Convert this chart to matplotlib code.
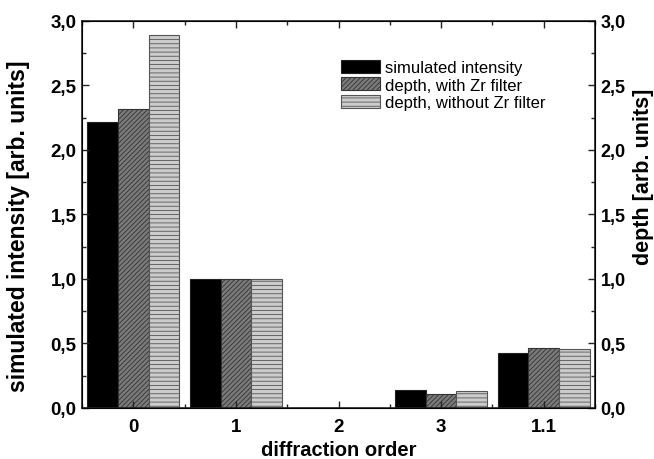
import matplotlib
matplotlib.use("Agg")
import matplotlib.pyplot as plt
from matplotlib.ticker import MultipleLocator, FuncFormatter
import numpy as np

orders = ["0", "1", "2", "3", "1.1"]
simulated = [2.22, 1.00, 0.0, 0.14, 0.43]
depth_zr = [2.32, 1.00, 0.0, 0.105, 0.465]
depth_no_zr = [2.89, 1.00, 0.0, 0.13, 0.455]

plt.rcParams["font.family"] = ["Liberation Sans", "DejaVu Sans"]
plt.rcParams["hatch.linewidth"] = 0.6

fig = plt.figure(figsize=(6.54, 4.6), dpi=100)
ax = fig.add_axes([0.1254, 0.1109, 0.7844, 0.8413])

x = np.arange(len(orders))
w = 0.3
ax.bar(x - w, simulated, w, color="black", edgecolor="#222222", lw=0.8,
       label="simulated intensity")
ax.bar(x, depth_zr, w, color="#7a7a7a", edgecolor="#333333", lw=0.8,
       hatch="///////", label="depth, with Zr filter")
ax.bar(x + w, depth_no_zr, w, color="#cccccc", edgecolor="#555555", lw=0.8,
       hatch="----", label="depth, without Zr filter")

ax.set_xlim(-0.5, 4.5)
ax.set_ylim(0, 3.0)
ax.set_xticks(x)
ax.set_xticklabels(orders)
ax.xaxis.set_minor_locator(MultipleLocator(0.5))
ax.yaxis.set_major_locator(MultipleLocator(0.5))
ax.yaxis.set_minor_locator(MultipleLocator(0.25))
comma = FuncFormatter(lambda v, p: f"{v:.1f}".replace(".", ","))
ax.yaxis.set_major_formatter(comma)

for s in ax.spines.values():
    s.set_linewidth(1.2)
    s.set_color("#222222")

ax.tick_params(axis="both", which="both", direction="out", width=1.0,
               labelsize=13.5, color="#222222")
ax.tick_params(which="major", length=5)
ax.tick_params(which="minor", length=3)
ax.tick_params(axis="x", pad=7)
ax.tick_params(axis="y", pad=4)
ax.tick_params(top=True, which="both", direction="in")
for lab in ax.get_xticklabels() + ax.get_yticklabels():
    lab.set_fontweight("bold")

ax2 = ax.twinx()
ax2.set_ylim(0, 3.0)
ax2.yaxis.set_major_locator(MultipleLocator(0.5))
ax2.yaxis.set_minor_locator(MultipleLocator(0.25))
ax2.yaxis.set_major_formatter(comma)
ax2.tick_params(axis="y", which="both", direction="in", width=1.0,
                labelsize=13, color="#222222", pad=4)
ax2.tick_params(which="major", length=5)
ax2.tick_params(which="minor", length=3)
for lab in ax2.get_yticklabels():
    lab.set_fontweight("bold")

ax.set_xlabel("diffraction order", fontsize=14.5, fontweight="bold", labelpad=4)
ax.set_ylabel("simulated intensity [arb. units]", fontsize=16.5,
              fontweight="bold")
ax.yaxis.set_label_coords(-0.101, 0.472)
ax2.set_ylabel("depth [arb. units]", fontsize=15.5, fontweight="bold",
               rotation=90)
ax2.yaxis.set_label_coords(1.074, 0.60)

ax.legend(loc="upper left", bbox_to_anchor=(0.505, 0.9), frameon=False,
          fontsize=12, handlelength=2.35, handleheight=0.85,
          labelspacing=0.12, handletextpad=0.3, borderaxespad=0,
          borderpad=0)

fig.savefig("out.png", dpi=100)
